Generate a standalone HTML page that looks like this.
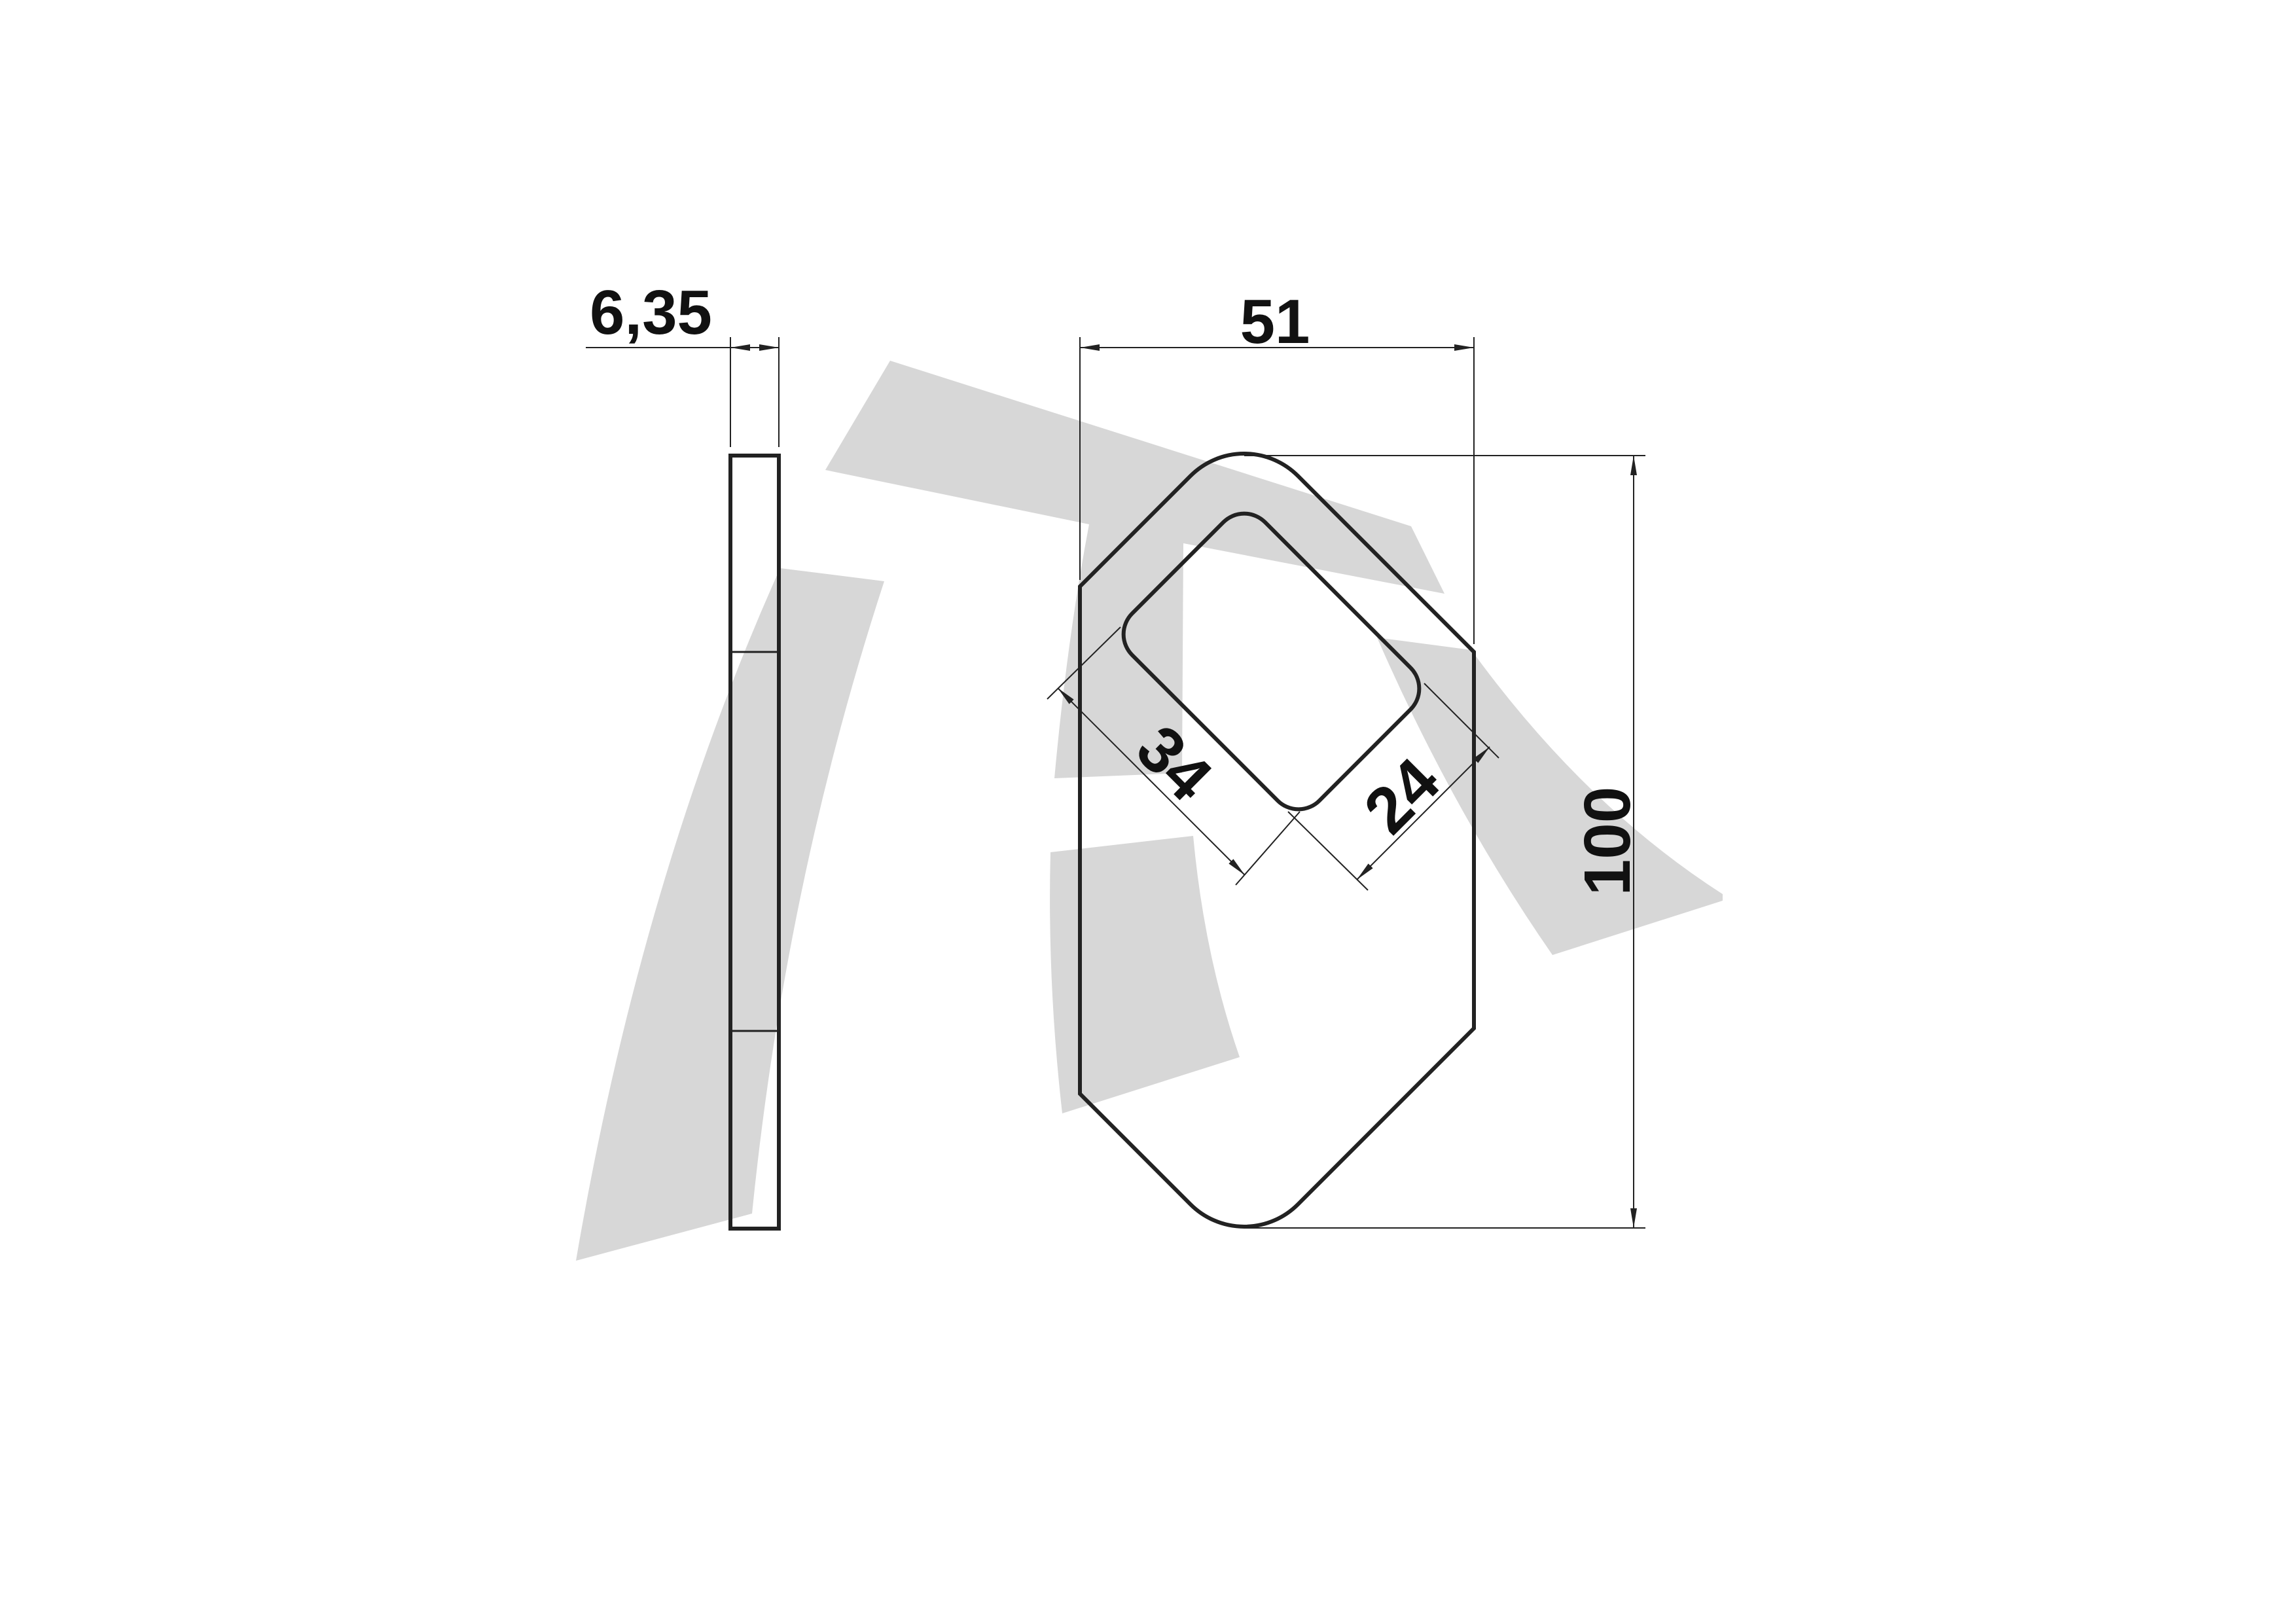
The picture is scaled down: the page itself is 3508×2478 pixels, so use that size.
<!DOCTYPE html>
<html><head><meta charset="utf-8"><style>
html,body{margin:0;padding:0;background:#fff}
svg{display:block}
text{font-family:"Liberation Sans",sans-serif;font-weight:bold;fill:#111}
</style></head><body>
<svg width="3508" height="2478" viewBox="0 0 3508 2478" xmlns="http://www.w3.org/2000/svg">
<defs>
<marker id="ar" viewBox="0 0 30 10" refX="30" refY="5" markerWidth="30" markerHeight="10" markerUnits="userSpaceOnUse" orient="auto">
<path d="M0,0 L30,5 L0,10 Z" fill="#222"/>
</marker>
</defs>
<g fill="#d7d7d7">
<path d="M1360,551 L2156,804 L2207,907 L1808,830 L1806,1181 L1611,1189 Q1630,980 1664,801 L1261,718 Z"/>
<path d="M880,1926 Q980,1340 1192,868 L1351,888 Q1200,1350 1149,1854 Z"/>
<path d="M1605,1302 L1823,1277 Q1840,1460 1894,1615 L1623,1701 Q1600,1500 1605,1302 Z"/>
<path d="M2104,974 L2248,993 Q2420,1230 2632,1366 L2632,1376 L2372,1459 Q2220,1240 2104,974 Z"/>
</g>
<g stroke="#222" fill="none">
<rect x="1116" y="696" width="74" height="1181" stroke-width="6"/>
<line x1="1116" y1="996" x2="1190" y2="996" stroke-width="3"/>
<line x1="1116" y1="1575" x2="1190" y2="1575" stroke-width="3"/>
<line x1="1116" y1="515" x2="1116" y2="683" stroke-width="2"/>
<line x1="1190" y1="515" x2="1190" y2="683" stroke-width="2"/>
<line x1="895" y1="531" x2="1116" y2="531" stroke-width="2"/>
<line x1="1153" y1="531" x2="1116" y2="531" stroke-width="2" marker-end="url(#ar)"/>
<line x1="1153" y1="531" x2="1190" y2="531" stroke-width="2" marker-end="url(#ar)"/>
</g>
<text x="901" y="510" font-size="96">6,35</text>
<g stroke="#222" fill="none">
<path d="M1650 896 L1819 727 A116 116 0 0 1 1983 727 L2252 996 L2252 1571 L1983 1840 A116 116 0 0 1 1819 1840 L1650 1671 Z" stroke-width="6"/>
<path d="M1932.8 797.8 L2155.2 1020.2 A45 45 0 0 1 2155.2 1083.8 L2015.8 1223.2 A45 45 0 0 1 1952.2 1223.2 L1729.8 1000.8 A45 45 0 0 1 1729.8 937.2 L1869.2 797.8 A45 45 0 0 1 1932.8 797.8 Z" stroke-width="6"/>
<line x1="1650" y1="515" x2="1650" y2="886" stroke-width="2"/>
<line x1="2252" y1="515" x2="2252" y2="984" stroke-width="2"/>
<line x1="1951" y1="531" x2="1650" y2="531" stroke-width="2" marker-end="url(#ar)"/>
<line x1="1951" y1="531" x2="2252" y2="531" stroke-width="2" marker-end="url(#ar)"/>
<line x1="1901" y1="696" x2="2514" y2="696" stroke-width="2"/>
<line x1="1901" y1="1876" x2="2514" y2="1876" stroke-width="2"/>
<line x1="2496" y1="1286" x2="2496" y2="696" stroke-width="2" marker-end="url(#ar)"/>
<line x1="2496" y1="1286" x2="2496" y2="1876" stroke-width="2" marker-end="url(#ar)"/>
<line x1="1712" y1="958" x2="1600" y2="1068" stroke-width="2"/>
<line x1="1986" y1="1240" x2="1888" y2="1352" stroke-width="2"/>
<line x1="1759" y1="1194" x2="1616" y2="1051" stroke-width="2" marker-end="url(#ar)"/>
<line x1="1759" y1="1194" x2="1902" y2="1337" stroke-width="2" marker-end="url(#ar)"/>
<line x1="2176" y1="1044" x2="2290" y2="1158" stroke-width="2"/>
<line x1="1968" y1="1240" x2="2090" y2="1360" stroke-width="2"/>
<line x1="2174" y1="1243" x2="2276" y2="1141" stroke-width="2" marker-end="url(#ar)"/>
<line x1="2174" y1="1243" x2="2073" y2="1344" stroke-width="2" marker-end="url(#ar)"/>
</g>
<text x="1948" y="524" font-size="96" text-anchor="middle">51</text>
<text x="0" y="0" font-size="100" text-anchor="middle" transform="translate(2490,1285) rotate(-90)">100</text>
<text x="0" y="0" font-size="100" text-anchor="middle" transform="translate(1770,1190) rotate(45)">34</text>
<text x="0" y="0" font-size="100" text-anchor="middle" transform="translate(2166,1240) rotate(-45)">24</text>
</svg>
</body></html>
